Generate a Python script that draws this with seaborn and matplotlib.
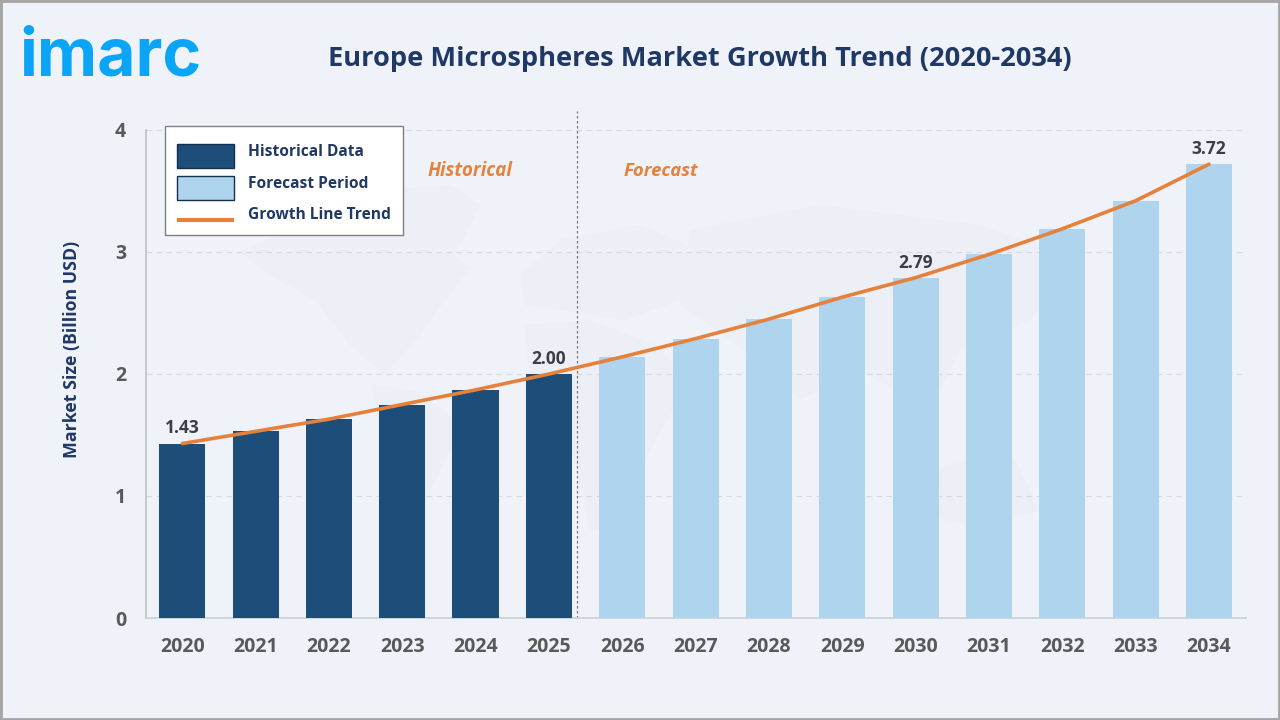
#!/usr/bin/env python3
import numpy as np
import pandas as pd
import matplotlib
matplotlib.use("Agg")
import matplotlib.pyplot as plt
from matplotlib.lines import Line2D
from matplotlib.patches import Patch, Polygon, Rectangle
import seaborn as sns

years = [str(y) for y in range(2020, 2035)]
market_size = [1.43, 1.53, 1.63, 1.75, 1.87, 2.00, 2.14, 2.29, 2.45, 2.63, 2.79, 2.98, 3.19, 3.42, 3.72]
periods = ["Historical Data"] * 6 + ["Forecast Period"] * 9
labelled_years = ["2020", "2025", "2030", "2034"]
y_ticks = [0, 1, 2, 3, 4]

BG = "#EFF3F9"
MAP = "#ECF0F6"
DARK = "#1C4E79"
LIGHT = "#AED4EE"
ORANGE = "#E5813B"
NAVY = "#203864"
GREY = "#595959"

W, H = 1280, 720

sns.set_theme(style="white")
plt.rcParams["font.family"] = ["Open Sans", "DejaVu Sans"]


def px(x, y):
    # picture pixels (origin top left) to figure fraction
    return x / W, 1 - y / H


df = pd.DataFrame({"year": years, "size": market_size, "period": periods})

fig = plt.figure(figsize=(W / 100, H / 100), dpi=100, facecolor=BG)

# faint world map behind the chart, rough outlines only
continents = [
    [(240, 252), (300, 225), (380, 215), (430, 240), (470, 268), (445, 300), (420, 335), (385, 375), (350, 345), (315, 300), (270, 275)],
    [(372, 385), (420, 392), (462, 425), (440, 470), (412, 530), (396, 520), (385, 450)],
    [(385, 190), (450, 185), (480, 205), (445, 275), (410, 250)],
    [(520, 275), (560, 240), (640, 225), (700, 250), (680, 300), (625, 320), (560, 310), (525, 305)],
    [(525, 325), (590, 320), (655, 345), (690, 380), (650, 450), (620, 530), (590, 530), (570, 440), (530, 395)],
    [(690, 230), (820, 205), (980, 225), (1080, 260), (1030, 320), (960, 350), (930, 410), (860, 370), (800, 400), (730, 340), (680, 305)],
    [(930, 470), (1010, 450), (1040, 510), (980, 530), (930, 515)],
]
for shape in continents:
    fig.add_artist(Polygon([px(*p) for p in shape], closed=True, transform=fig.transFigure,
                           facecolor=MAP, edgecolor="none", zorder=-1))

# axes box in pixels: x 145.6-1245.6, y 130-618
ax = fig.add_axes([145.6 / W, 1 - 618 / H, 1100 / W, 488 / H], facecolor="none")

sns.barplot(data=df, x="year", y="size", hue="period",
            palette={"Historical Data": DARK, "Forecast Period": LIGHT},
            dodge=False, width=0.63, saturation=1, legend=False, ax=ax, zorder=3,
            edgecolor="none", linewidth=0)
sns.lineplot(x=np.arange(len(years)), y=market_size, color=ORANGE, lw=2.6,
             solid_capstyle="round", ax=ax, zorder=4)

ax.set_xlim(-0.5, 14.5)
ax.set_ylim(0, 4)
ax.set_yticks(y_ticks)
ax.set_xlabel("")
ax.set_ylabel("Market Size (Billion USD)", fontsize=12.8, fontweight="bold", color=NAVY)
ax.yaxis.set_label_coords(-0.0587, 0.551)
ax.tick_params(axis="x", length=0, pad=14, labelsize=14, labelcolor=GREY)
ax.tick_params(axis="y", length=0, pad=14, labelsize=14, labelcolor=GREY)
for lab in ax.get_xticklabels() + ax.get_yticklabels():
    lab.set_fontweight("bold")

ax.grid(axis="y", color="#D5D9E0", lw=0.8, ls=(0, (5, 4)), zorder=0)
ax.set_axisbelow(True)
sns.despine(ax=ax, top=True, right=True)
ax.spines["left"].set_color("#BFC3C9")
ax.spines["bottom"].set_color("#CDD0D5")

# value labels
for yr in labelled_years:
    i = years.index(yr)
    ax.text(i, market_size[i] + 0.05, f"{market_size[i]:.2f}", ha="center", va="bottom",
            fontsize=12.5, fontweight="bold", color="#3B3F45", zorder=5)

# historical / forecast divider, runs a little above the plot area
ax.axvline(5.38, ymax=1.039, color="#777777", lw=0.9, ls=(0, (2, 2)), zorder=2, clip_on=False)
fig.text(*px(470, 171), "Historical", ha="center", va="center", fontsize=13.4,
         fontweight="bold", fontstyle="italic", color=ORANGE)
fig.text(*px(661, 171), "Forecast", ha="center", va="center", fontsize=13.3,
         fontweight="bold", fontstyle="italic", color=ORANGE)

# legend frame is a separate box so the rows can sit low in it like the original
fig.add_artist(Rectangle(px(164.5, 234.5), 239 / W, 109 / H, transform=fig.transFigure,
                         facecolor="white", edgecolor="#7F7F7F", lw=1, zorder=9))
handles = [
    Patch(facecolor=DARK, edgecolor="#14304F", lw=1, label="Historical Data"),
    Patch(facecolor=LIGHT, edgecolor="#14304F", lw=1, label="Forecast Period"),
    Line2D([0], [0], color=ORANGE, lw=3, solid_capstyle="butt", label="Growth Line Trend"),
]
leg = fig.legend(handles=handles, loc="upper left", bbox_to_anchor=px(177, 144),
                 bbox_transform=fig.transFigure, frameon=False,
                 handlelength=3.66, handleheight=1.99, handletextpad=0.9,
                 labelspacing=0.5, borderpad=0, borderaxespad=0,
                 prop={"size": 11.2, "weight": "bold"})
leg.set_zorder(10)
for txt, shift in zip(leg.get_texts(), [5, 5, 5]):
    txt.set_color(NAVY)
    txt.set_position((0, shift))
trend_handle = leg.legend_handles[2]
trend_handle.set_ydata(np.asarray(trend_handle.get_ydata()) - 3)

fig.text(*px(700, 59), "Europe Microspheres Market Growth Trend (2020-2034)",
         ha="center", va="center", fontsize=19.6, fontweight="bold", color=NAVY)

# logo wordmark
fig.text(*px(110, 58), "imarc", ha="center", va="center", fontsize=47.5,
         fontweight="bold", color="#0BA5F7", family=["Inter", "DejaVu Sans"])

# outer border of the picture
fig.add_artist(Rectangle((0, 0), 1, 1, transform=fig.transFigure, fill=False,
                         edgecolor="#A6A6A6", lw=3.5))

fig.savefig("out.png", dpi=100, facecolor=BG)
